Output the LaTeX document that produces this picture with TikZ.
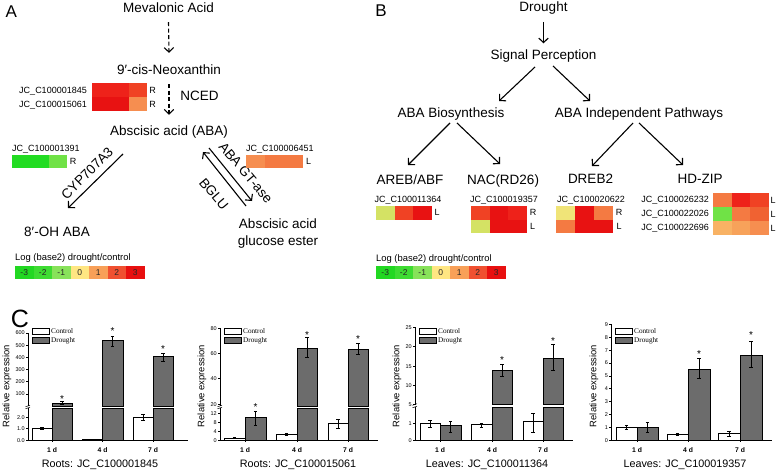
\documentclass[tikz,border=0pt]{standalone}
\usepackage{fontspec}
\setmainfont{Liberation Sans}
\newfontfamily\legserif{Liberation Serif}
\usetikzlibrary{arrows.meta}
\definecolor{hR}{RGB}{232,18,18}
\definecolor{hR2}{RGB}{238,34,26}
\definecolor{hRO}{RGB}{240,66,36}
\definecolor{hOR}{RGB}{240,98,50}
\definecolor{hO}{RGB}{244,122,66}
\definecolor{hO2}{RGB}{246,142,80}
\definecolor{hLO}{RGB}{248,178,100}
\definecolor{hLO2}{RGB}{247,162,90}
\definecolor{hYG}{RGB}{212,226,100}
\definecolor{hPY}{RGB}{240,228,120}
\definecolor{hG}{RGB}{34,220,34}
\definecolor{hLG}{RGB}{112,226,70}
\definecolor{barg}{RGB}{108,108,108}
\definecolor{s1}{RGB}{34,216,34}
\definecolor{s2}{RGB}{62,220,50}
\definecolor{s3}{RGB}{136,226,90}
\definecolor{s4}{RGB}{255,230,130}
\definecolor{s5}{RGB}{248,160,88}
\definecolor{s6}{RGB}{240,80,48}
\definecolor{s7}{RGB}{232,16,16}
\newcount\nc
\newcommand\hrow[7]{\fill[#5] (#1,#2) rectangle ++({#3+0.3},#4);
  \fill[#6] ({#1+#3},#2) rectangle ++({#3+0.3},#4);
  \fill[#7] ({#1+2*#3},#2) rectangle ++(#3,#4);}
\newcommand\scl[3]{%
  \foreach \c [count=\i from 0] in {s1,s2,s3,s4,s5,s6,s7}{\fill[\c] ({#2+\i*18.5},#3) rectangle ++(18.8,13.5);}
  \foreach \t [count=\i from 0] in {-3,-2,-1,0,1,2,3}{\node[snum] (#1\i) at ({#2+\i*18.5+9.25},{#3+6.75}) {\t};}}
\newcommand\ytk[3]{\draw[axl] (#1,#2) -- ({#1-2},#2);
  \global\advance\nc by 1
  \node[tkl] (tk\the\nc) at ({#1-3},#2) {#3};}
\newcommand\xtk[2]{\draw[axl] (#1,440) -- (#1,442);
  \global\advance\nc by 1
  \node[xtl] (xt\the\nc) at (#1,450) {#2};}
\newcommand\ebr[3]{\draw[eb] (#1,#2) -- (#1,#3) ({#1-1.6},#2) -- ({#1+1.6},#2) ({#1-1.6},#3) -- ({#1+1.6},#3);}
\newcommand\sig[2]{\global\advance\nc by 1
  \node[sigst] (st\the\nc) at (#1,{#2+5.9}) {*};}
\newcommand\cleg[1]{%
  \draw[ctrl] ({#1+4.5},328) rectangle ({#1+21},334);
  \draw[drt] ({#1+4.5},337) rectangle ({#1+21},343);
  \global\advance\nc by 1
  \node[legt] (lg\the\nc) at ({#1+23},331) {Control};
  \global\advance\nc by 1
  \node[legt] (lg\the\nc) at ({#1+23},340) {Drought};}
\newcommand\ybrk[3]{\fill[white] ({#1-2.5},#2) rectangle ({#1+1},#3);
  \draw[axl] ({#1-2.5},{#2+0.8}) -- ({#1+2},{#2-0.8}) ({#1-2.5},{#3+0.8}) -- ({#1+2},{#3-0.8});}
\begin{document}
\begin{tikzpicture}[x=1pt,y=-1pt,
  big/.style={inner sep=0pt,font=\fontsize{13.5}{13.5}\selectfont,text height=9.7pt,text depth=0pt},
  gid/.style={inner sep=0pt,font=\fontsize{9}{9}\selectfont,text height=6.45pt,text depth=0pt},
  tis/.style={gid},
  pan/.style={inner sep=0pt,font=\fontsize{17}{17}\selectfont,text height=12.2pt,text depth=0pt},
  legtitle/.style={inner sep=0pt,font=\fontsize{9.4}{9.4}\selectfont,text height=6.8pt,text depth=0pt,anchor=west},
  snum/.style={inner sep=0pt,font=\fontsize{8.5}{8.5}\selectfont,text height=6.1pt,text depth=0pt,text=black!85},
  arr/.style={line width=1.1pt,-{Straight Barb[length=4.5pt,width=9.5pt]}},
  darr/.style={arr,dash pattern=on 4pt off 2.5pt},
  axl/.style={line width=0.5pt},
  tkl/.style={inner sep=0pt,font=\fontsize{5.5}{5.5}\selectfont,text height=4pt,text depth=0pt,anchor=east},
  xtl/.style={inner sep=0pt,font=\fontsize{6.8}{6.8}\selectfont\bfseries,text height=4.9pt,text depth=0pt},
  ctrl/.style={fill=white,draw=black,line width=0.45pt},
  drt/.style={fill=barg,draw=black,line width=0.45pt},
  eb/.style={line width=0.5pt},
  sigst/.style={inner sep=0pt,font=\fontsize{10}{10}\selectfont,anchor=base},
  ylab/.style={inner sep=0pt,font=\fontsize{9.4}{9.4}\selectfont,text height=6.8pt,text depth=0pt,rotate=90},
  ttl/.style={inner sep=0pt,font=\fontsize{10.8}{10.8}\selectfont,text height=7.8pt,text depth=0pt},
  legt/.style={inner sep=0pt,font=\legserif\fontsize{7.2}{7.2}\selectfont,text height=4.8pt,text depth=0pt,anchor=west}]
\useasboundingbox[fill=white] (0,0) rectangle (778,473);

% ================= Panel A =================
\node[pan] (pA) at (11.3,11.2) {A};
\node[big] (mev) at (168.5,7.8) {Mevalonic Acid};
\node[big] (neo) at (169,69.5) {9′-cis-Neoxanthin};
\node[big] (nced) at (199.5,95.7) {NCED};
\node[big] (aba) at (169,131) {Abscisic acid (ABA)};
\node[big] (oh) at (57,232) {8′-OH ABA};
\node[big] (ag1) at (278,224) {Abscisic acid};
\node[big] (ag2) at (278,240.5) {glucose ester};
\draw[darr] ([yshift=-9.3pt]mev.south) -- ([yshift=11.6pt]neo.north);
\draw[darr] ([yshift=-9.6pt]neo.south) -- ([yshift=11.2pt]aba.north);
\coordinate (c1s) at (123,154); \coordinate (c1e) at (68,208);
\draw[arr] (c1s) -- (c1e);
\node[big,rotate=45] (cyp) at (87,173) {CYP707A3};
\coordinate (g1s) at (209,148); \coordinate (g1e) at (252,201);
\coordinate (b1s) at (246,206); \coordinate (b1e) at (203,152);
\draw[arr] (g1s) -- (g1e);
\draw[arr] (b1s) -- (b1e);
\node[big,rotate=-50] (gtase) at (246,172.8) {ABA GT-ase};
\node[big,rotate=-50] (bglu) at (214,194) {BGLU};

\hrow{92}{83}{18.4}{14}{hR2}{hR2}{hRO}
\hrow{92}{97}{18.4}{14}{hR}{hR}{hO2}
\node[gid,anchor=east] (g1845) at (87,90.5) {JC\_C100001845};
\node[gid,anchor=east] (g5061) at (87,104.5) {JC\_C100015061};
\node[tis] (r1845) at (152.5,90) {R};
\node[tis] (r5061) at (152.5,104) {R};

\hrow{12}{155}{18.4}{13}{hG}{hG}{hLG}
\node[gid,anchor=west] (g1391) at (12,148) {JC\_C100001391};
\node[tis] (r1391) at (73,161.5) {R};

\hrow{246}{155}{19}{13}{hO2}{hO}{hO}
\node[gid,anchor=west] (g6451) at (246,148) {JC\_C100006451};
\node[tis] (l6451) at (308.5,161.5) {L};

\node[legtitle] (lgA) at (15,257.5) {Log (base2) drought/control};
\scl{sa}{15}{265.5}

% ================= Panel B =================
\node[pan] (pB) at (381,10.3) {B};
\node[big] (dr) at (543.5,6.5) {Drought};
\node[big] (sp) at (543.5,55) {Signal Perception};
\node[big] (abab) at (451,112.5) {ABA Biosynthesis};
\node[big] (abai) at (639,113) {ABA Independent Pathways};
\node[big] (areb) at (410,179.5) {AREB/ABF};
\node[big] (nac) at (503,179.5) {NAC(RD26)};
\node[big] (dreb) at (590.5,179) {DREB2};
\node[big] (hdz) at (700,179) {HD-ZIP};
\draw[arr] ([yshift=-10.3pt]dr.south) -- ([yshift=6.6pt]sp.north);
\coordinate (b1a) at (535,67); \coordinate (b1b) at (499,101);
\coordinate (b2a) at (553,66); \coordinate (b2b) at (590,101);
\coordinate (b3a) at (450,123); \coordinate (b3b) at (408,165);
\coordinate (b4a) at (457,123); \coordinate (b4b) at (500,164);
\coordinate (b5a) at (633,123); \coordinate (b5b) at (592,166);
\coordinate (b6a) at (639,123); \coordinate (b6b) at (683,165);
\draw[arr] (b1a) -- (b1b);
\draw[arr] (b2a) -- (b2b);
\draw[arr] (b3a) -- (b3b);
\draw[arr] (b4a) -- (b4b);
\draw[arr] (b5a) -- (b5b);
\draw[arr] (b6a) -- (b6b);

\hrow{376}{206}{18.7}{13.5}{hYG}{hRO}{hR}
\node[gid] (g11364) at (408,199) {JC\_C100011364};
\node[tis] (l11364) at (437,212.75) {L};

\hrow{471}{206}{18.7}{13.5}{hRO}{hR}{hR2}
\hrow{471}{219.5}{18.7}{13.5}{hYG}{hR}{hR}
\node[gid] (g19357) at (504,199) {JC\_C100019357};
\node[tis] (r19357) at (533,212.75) {R};
\node[tis] (l19357) at (532.5,226.25) {L};

\hrow{556}{206}{19}{13.5}{hPY}{hR}{hO}
\hrow{556}{219.5}{19}{13.5}{hO}{hR}{hR}
\node[gid] (g20622) at (591,199) {JC\_C100020622};
\node[tis] (r20622) at (619,212.75) {R};
\node[tis] (l20622) at (619,226.25) {L};

\hrow{713}{193}{18.7}{14}{hO}{hR2}{hRO}
\hrow{713}{207}{18.7}{14}{hLG}{hO}{hOR}
\hrow{713}{221}{18.7}{14}{hLO}{hLO2}{hO2}
\node[gid,anchor=east] (g26232) at (709,199.5) {JC\_C100026232};
\node[gid,anchor=east] (g22026) at (709,213) {JC\_C100022026};
\node[gid,anchor=east] (g22696) at (709,227) {JC\_C100022696};
\node[tis] (l26232) at (773,200) {L};
\node[tis] (l22026) at (773,214) {L};
\node[tis] (l22696) at (773,228) {L};

\node[legtitle] (lgB) at (376,257.8) {Log (base2) drought/control};
\scl{sb}{376}{265.5}

% ================= Panel C =================
\node[inner sep=0pt,font=\fontsize{25}{25}\selectfont,text height=18pt,text depth=0pt] (pC) at (20,318) {C};

% ---- chart 1 ----
\draw[ctrl] (32,440) rectangle (52,428.5);
\draw[drt] (52,440) rectangle (72,408); \draw[drt] (52,406) rectangle (72,403);
\draw[ctrl] (82,440) rectangle (102,439);
\draw[drt] (102,440) rectangle (123,408); \draw[drt] (102,406) rectangle (123,340);
\draw[ctrl] (133,440) rectangle (153,417);
\draw[drt] (153,440) rectangle (173,408); \draw[drt] (153,406) rectangle (173,356.6);
\ebr{42}{427.5}{429.5}
\ebr{62}{401.5}{404}
\ebr{112.5}{336}{346}
\ebr{143}{414}{420}
\ebr{163}{353}{361}
\sig{62}{397} \sig{112.5}{329} \sig{163}{347}
\draw[axl] (28,440) -- (28,332.5) (28,440) -- (188,440);
\ybrk{28}{406}{408}
\ytk{28}{440}{0.0} \ytk{28}{428.5}{1.0} \ytk{28}{417}{2.0}
\ytk{28}{393.8}{100} \ytk{28}{381.6}{200} \ytk{28}{369.4}{300}
\ytk{28}{357.2}{400} \ytk{28}{345}{500} \ytk{28}{332.8}{600}
\xtk{52}{1 d} \xtk{102.5}{4 d} \xtk{153}{7 d}
\cleg{28}
\node[ylab] (yl1) at (6,386) {Relative expression};
\node[ttl] (t1) at (100,464) {Roots: JC\_C100001845};

% ---- chart 2 ----
\draw[ctrl] (224,440) rectangle (245,437.75);
\draw[drt] (245,440) rectangle (266,417.5);
\draw[ctrl] (276,440) rectangle (297,434.4);
\draw[drt] (297,440) rectangle (317,408); \draw[drt] (297,406) rectangle (317,348.3);
\draw[ctrl] (328,440) rectangle (348,423.1);
\draw[drt] (348,440) rectangle (368,408); \draw[drt] (348,406) rectangle (368,349.5);
\ebr{234.5}{437}{438.5}
\ebr{255.5}{411}{425}
\ebr{286.5}{433.5}{435.2}
\ebr{307}{337}{357}
\ebr{338}{419}{428}
\ebr{358}{343}{354}
\sig{255.5}{405} \sig{307}{333} \sig{358}{337}
\draw[axl] (220,440) -- (220,327.5) (220,440) -- (378,440);
\ybrk{220}{406}{408}
\ytk{220}{440}{0} \ytk{220}{431}{4} \ytk{220}{422}{8} \ytk{220}{413}{12}
\ytk{220}{404}{20} \ytk{220}{378.7}{40} \ytk{220}{353.3}{60} \ytk{220}{328}{80}
\xtk{245}{1 d} \xtk{297}{4 d} \xtk{348}{7 d}
\cleg{220}
\node[ylab] (yl2) at (201,386) {Relative expression};
\node[ttl] (t2) at (298,464) {Roots: JC\_C100015061};

% ---- chart 3 ----
\draw[ctrl] (420,440) rectangle (440,423);
\draw[drt] (440,440) rectangle (461,425.5);
\draw[ctrl] (471,440) rectangle (492,424.7);
\draw[drt] (492,440) rectangle (512,407); \draw[drt] (492,404.5) rectangle (512,369.9);
\draw[ctrl] (523,440) rectangle (543,421.3);
\draw[drt] (543,440) rectangle (563,407); \draw[drt] (543,404.5) rectangle (563,358.2);
\ebr{430}{420}{427}
\ebr{450.5}{421}{432}
\ebr{481.5}{423}{427}
\ebr{502}{364}{376}
\ebr{533}{413}{432}
\ebr{553}{344}{370}
\sig{502}{358} \sig{553}{339}
\draw[axl] (415,440) -- (415,326.5) (415,440) -- (573,440);
\ybrk{415}{404.5}{407}
\ytk{415}{440}{0} \ytk{415}{423}{1}
\ytk{415}{404.5}{5} \ytk{415}{385.5}{10} \ytk{415}{366}{15} \ytk{415}{346.5}{20} \ytk{415}{327}{25}
\xtk{440}{1 d} \xtk{492}{4 d} \xtk{543}{7 d}
\cleg{415}
\node[ylab] (yl3) at (396,386) {Relative expression};
\node[ttl] (t3) at (487,464) {Leaves: JC\_C100011364};

% ---- chart 4 ----
\draw[ctrl] (616,440) rectangle (637,427.2);
\draw[drt] (637,440) rectangle (658,427.4);
\draw[ctrl] (667,440) rectangle (688,434.2);
\draw[drt] (688,440) rectangle (710,369.3);
\draw[ctrl] (718,440) rectangle (740,433.6);
\draw[drt] (740,440) rectangle (762,355.2);
\ebr{626.5}{425}{429.3}
\ebr{647.5}{422}{432.3}
\ebr{677.5}{433.5}{435}
\ebr{699}{357.8}{378.3}
\ebr{729}{431}{436}
\ebr{751}{341}{366.8}
\sig{699}{352} \sig{751}{333}
\draw[axl] (611,440) -- (611,323.5) (611,440) -- (772,440);
\foreach \v in {0,...,9}{\pgfmathsetmacro\yy{440-12.85*\v}\ytk{611}{\yy}{\v}}
\xtk{637}{1 d} \xtk{688}{4 d} \xtk{740}{7 d}
\cleg{611}
\node[ylab] (yl4) at (593,386) {Relative expression};
\node[ttl] (t4) at (685,464) {Leaves: JC\_C100019357};
\end{tikzpicture}
\end{document}
